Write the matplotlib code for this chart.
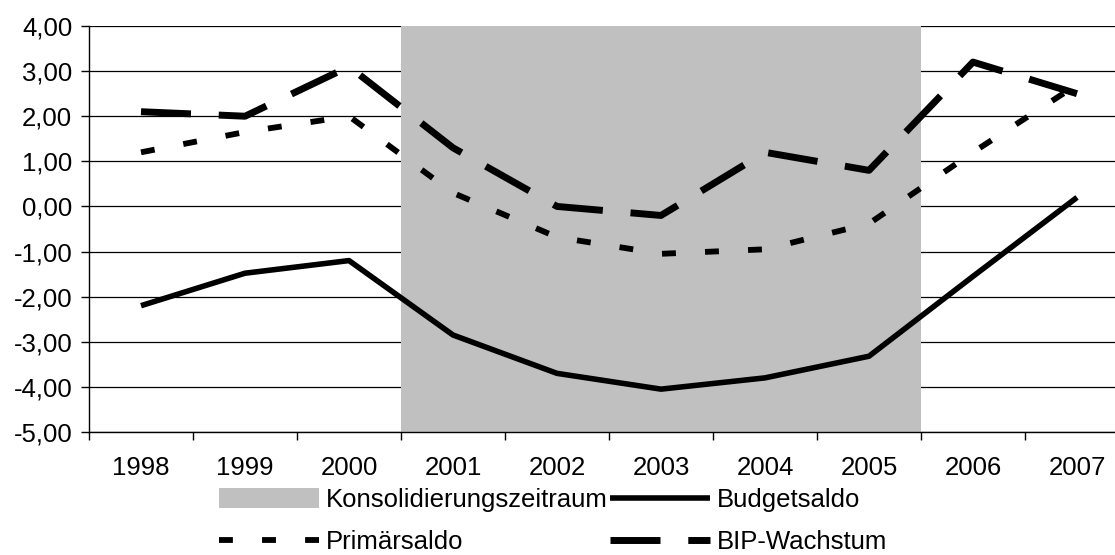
import numpy as np
import matplotlib
import matplotlib.pyplot as plt
from matplotlib.ticker import FuncFormatter

matplotlib.use('Agg')

plt.rcParams['font.family'] = ['Liberation Sans', 'DejaVu Sans']
plt.rcParams['lines.scale_dashes'] = False

jahre = ['1998', '1999', '2000', '2001', '2002', '2003', '2004', '2005', '2006', '2007']
konsolidierung = [0, 0, 0, 1, 1, 1, 1, 1, 0, 0]
budgetsaldo = [-2.20, -1.48, -1.20, -2.85, -3.70, -4.05, -3.80, -3.32, -1.55, 0.20]
primaersaldo = [1.20, 1.65, 2.00, 0.30, -0.68, -1.05, -0.95, -0.38, 1.20, 2.70]
bip_wachstum = [2.10, 2.00, 3.10, 1.30, 0.00, -0.20, 1.20, 0.80, 3.20, 2.50]

ymin, ymax = -5, 4
fs = 18.5

W, H = 1115, 555
fig = plt.figure(figsize=(W / 100, H / 100), dpi=100)
# plot area runs slightly past the right edge, like the cropped original
ax = fig.add_axes([89 / W, (H - 432) / H, 1040 / W, 406 / H])

x = np.arange(len(jahre))

ax.set_axisbelow(True)
ax.yaxis.grid(True, color='black', linewidth=0.9)

hoehe = [(ymax - ymin) if k else 0 for k in konsolidierung]
konsol = ax.bar(x, hoehe, bottom=ymin, width=1.0, color='#c0c0c0', zorder=2)

budget, = ax.plot(x, budgetsaldo, color='black', lw=4.0, solid_capstyle='butt', zorder=3)
primaer, = ax.plot(x, primaersaldo, color='black', lw=4.2, dashes=(10, 21),
                   dash_capstyle='butt', zorder=3)
bip, = ax.plot(x, bip_wachstum, color='black', lw=5.0, dashes=(36, 20),
               dash_capstyle='butt', zorder=3)

ax.set_xlim(-0.5, len(jahre) - 0.5)
ax.set_ylim(ymin, ymax)
ax.set_yticks(np.arange(ymin, ymax + 1, 1))
ax.yaxis.set_major_formatter(FuncFormatter(lambda v, p: f'{v:.2f}'.replace('.', ',')))

ax.set_xticks(x)
ax.set_xticklabels(jahre)
ax.set_xticks(np.arange(-0.5, len(jahre), 1), minor=True)
ax.tick_params(axis='x', which='major', length=0, pad=17, labelsize=fs)
ax.tick_params(axis='x', which='minor', length=6, width=1, direction='out')
ax.tick_params(axis='y', length=6, width=1, direction='out', pad=6, labelsize=fs)

for s in ['top', 'right']:
    ax.spines[s].set_visible(False)
ax.spines['left'].set_linewidth(1)
ax.spines['bottom'].set_linewidth(1)

# column-wise fill: row 1 = Konsolidierung, Budgetsaldo; row 2 = Primär, BIP
fig.legend([konsol, primaer, budget, bip],
           ['Konsolidierungszeitraum', 'Primärsaldo', 'Budgetsaldo', 'BIP-Wachstum'],
           ncol=2, loc='upper left', bbox_to_anchor=(219 / W, 1 - 488 / H),
           frameon=False, fontsize=fs, handlelength=3.9, handleheight=0.85,
           handletextpad=0.25, columnspacing=0.1, labelspacing=0.7,
           borderpad=0, borderaxespad=0)

fig.savefig('out.png', dpi=100)
